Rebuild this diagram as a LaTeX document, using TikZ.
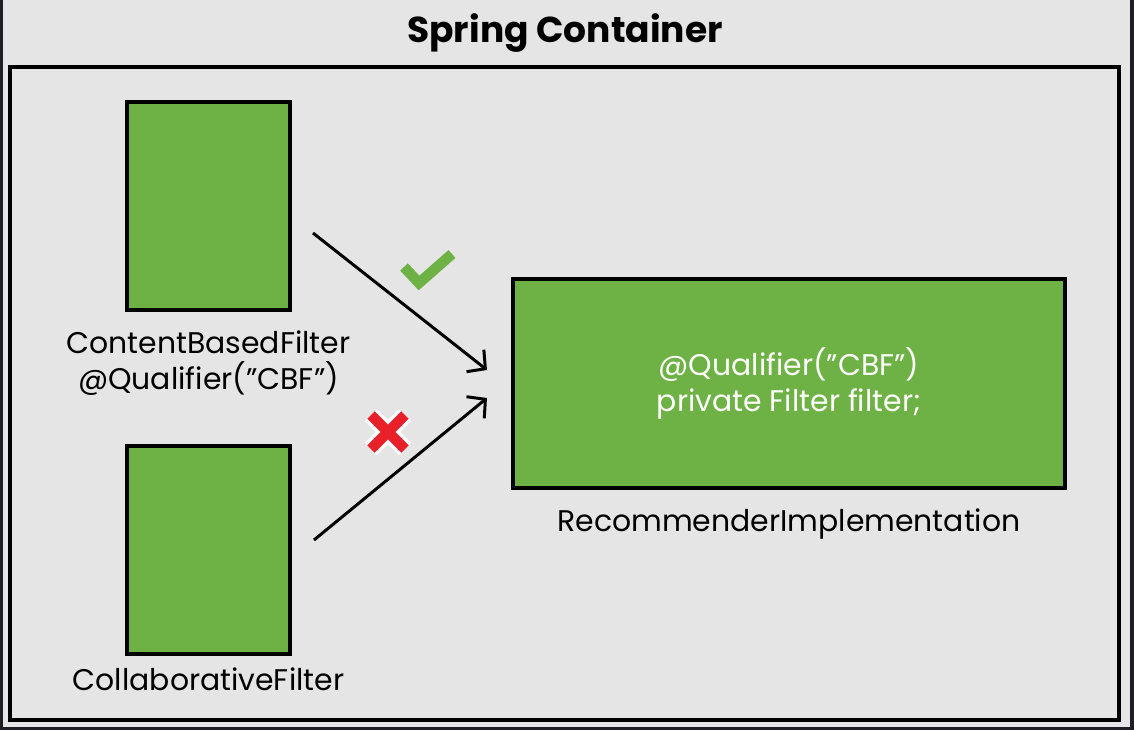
\documentclass[tikz,border=0pt]{standalone}
\usepackage{fontspec}
\setmainfont{Poppins}
\usetikzlibrary{positioning,arrows.meta}

\definecolor{beangreen}{HTML}{6EB246}
\definecolor{panelgray}{HTML}{E5E5E5}
\definecolor{edgedark}{HTML}{1E1E24}
\definecolor{crossred}{HTML}{E8202A}

\begin{document}
\begin{tikzpicture}[x=0.02cm, y=-0.02cm,
  bean/.style={draw=black, line width=2.3pt, fill=beangreen},
  beanlabel/.style={font=\fontsize{17}{20.5}\selectfont, align=center, text=black},
  wire/.style={line width=1.7pt, -{Straight Barb[length=2.6mm, width=5.6mm, line width=1.7pt]}}]
% Background and frame
\useasboundingbox (0, 0) rectangle (1134, 730);
\fill[panelgray] (0, 0) rectangle (1134, 730);
\draw[edgedark, line width=2pt] (1, 0) -- (1, 729) -- (1132, 729) -- (1132, 0);
\draw[line width=2.3pt] (10, 67) rectangle (1119, 720);
\node[font=\fontsize{20.5}{24}\selectfont\bfseries] (title) at (565, 33) {Spring Container};

% The beans
\node[bean, minimum width=3.26cm, minimum height=4.16cm] (cbf) at (208.5, 206) {};
\node[bean, minimum width=3.26cm, minimum height=4.16cm] (colf) at (208.5, 550) {};
\node[bean, minimum width=11.04cm, minimum height=4.18cm, text=white,
      font=\fontsize{17}{20}\selectfont, align=center] (impl) at (789, 383.5)
      {@Qualifier(”CBF”)\\private Filter filter;};

% Labels under the beans
\node[beanlabel, below=0.25cm of cbf] (cbflabel) {ContentBasedFilter\\@Qualifier(”CBF”)};
\node[beanlabel, below=0.12cm of colf] (colflabel) {CollaborativeFilter};
\node[beanlabel, below=0.25cm of impl] (impllabel) {RecommenderImplementation};

% Injection arrows
\coordinate (cbfout) at (313, 233);
\coordinate (colfout) at (314, 540);
\coordinate (implin1) at (487, 370);
\coordinate (implin2) at (487, 398);
\draw[wire] (cbfout) -- (implin1);
\draw[wire] (colfout) -- (implin2);

% Check mark and cross
\draw[beangreen, line width=6pt] (404, 267) -- (419, 283) -- (452, 254);
\draw[white, line width=10pt] (371, 415) -- (405, 449) (405, 415) -- (371, 449);
\draw[crossred, line width=6pt] (371, 415) -- (405, 449) (405, 415) -- (371, 449);
\end{tikzpicture}
\end{document}
